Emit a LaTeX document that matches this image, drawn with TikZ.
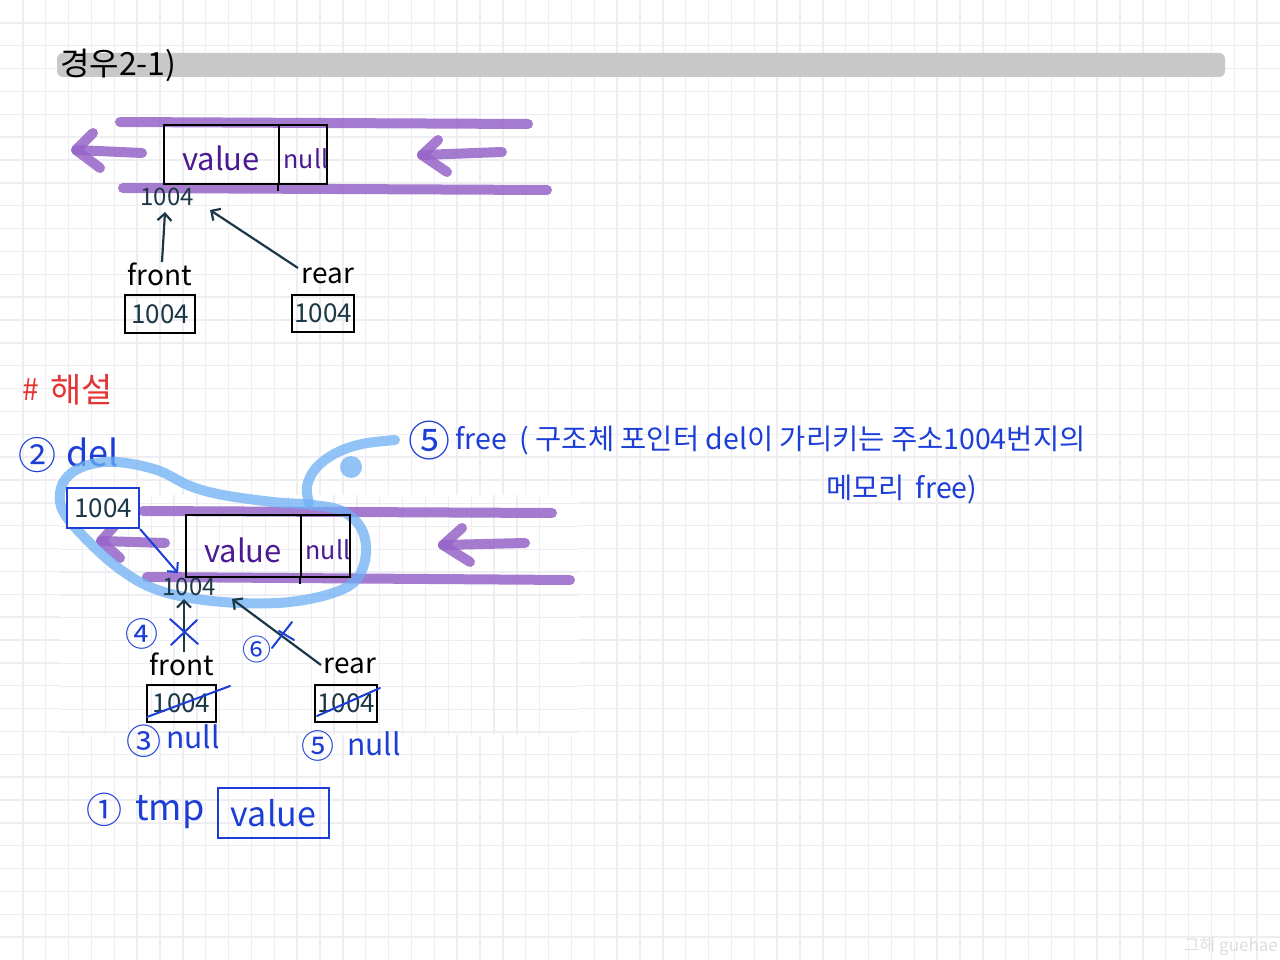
\documentclass[tikz,border=0pt]{standalone}
\usepackage{fontspec}
\setmainfont{Noto Sans CJK KR}
\usetikzlibrary{arrows.meta}
\definecolor{gridc}{RGB}{238,238,242}
\definecolor{barc}{RGB}{200,200,200}
\definecolor{purp}{RGB}{150,100,200}
\definecolor{nodepurp}{RGB}{75,25,145}
\definecolor{tealc}{RGB}{28,55,70}
\definecolor{penblue}{RGB}{28,62,215}
\definecolor{loopblue}{RGB}{110,175,245}
\definecolor{penred}{RGB}{228,52,52}
\definecolor{wmark}{RGB}{222,222,222}
\newcommand{\hsz}[1]{\fontsize{#1}{#1}\selectfont}
\tikzset{
  pline/.style={line width=10, line cap=round, line join=round, draw=purp, draw opacity=0.85},
  loopst/.style={line width=10, line cap=round, line join=round, draw=loopblue, draw opacity=0.75},
  cellbox/.style={draw=black, line width=2.2, inner sep=0},
  bluebox/.style={draw=penblue, line width=2.2, inner sep=0},
  vtxt/.style={text=nodepurp, font=\hsz{31}, inner sep=0},
  ntxt/.style={text=nodepurp, font=\hsz{25}, inner sep=0},
  addr/.style={text=tealc, font=\hsz{24}, inner sep=0},
  lbl/.style={text=black, font=\hsz{28}, inner sep=0},
  btxt/.style={text=penblue, font=\hsz{30}, inner sep=0},
  ptr/.style={draw=tealc, line width=2.2, -{Straight Barb[length=7pt,width=14pt]}},
  bptr/.style={draw=penblue, line width=2, -{Straight Barb[length=7pt,width=14pt]}},
  bstroke/.style={draw=penblue, line width=2, line cap=round}
}
\begin{document}
\begin{tikzpicture}[x=1pt,y=-1pt]
\useasboundingbox (0,0) rectangle (1280,960);
\fill[white] (0,0) rectangle (1280,960);
% grid
\foreach \i in {1,...,55} \draw[gridc, line width=1.3] (\i*22.857,0) -- (\i*22.857,960);
\foreach \j in {1,...,41} \draw[gridc, line width=1.3] (0,\j*22.857) -- (1280,\j*22.857);
% pasted area
\fill[white] (60,495) rectangle (578,735);
\begin{scope}
\clip (60,495) rectangle (578,735);
\foreach \i in {0,...,23} \draw[gridc, line width=1.3] (14.1+\i*22.857,495) -- (14.1+\i*22.857,735);
\foreach \j in {21,...,33} \draw[gridc, line width=1.3] (60,\j*22.857+0.6) -- (578,\j*22.857+0.6);
\end{scope}
% title bar
\fill[barc, rounded corners=6] (57,53) rectangle (1225,77);
\node[anchor=west, font=\hsz{32}, inner sep=0] (title) at (60,65) {경우2-1)};

% ---------- top diagram ----------
\draw[pline] (120,122) -- (528,124);
\draw[pline] (123,188) -- (547,190);
\draw[pline] (93,133) -- (76,150) -- (100,168);
\draw[pline] (76,150) -- (142,153);
\draw[pline] (438,140) -- (422,155) -- (447,172);
\draw[pline] (422,155) -- (502,152);
\node[cellbox, minimum width=115, minimum height=59] (v1) at (221.5,154.5) {};
\node[cellbox, minimum width=48, minimum height=59] (n1) at (303,154.5) {};
\draw[black, line width=2.2] (n1.south west) -- ++(0,6);
\node[vtxt] (v1t) at (221,158) {value};
\node[ntxt] (n1t) at (306,159) {null};
\node[addr] (a1) at (167,197) {1004};
\node[lbl] (f1) at (160,274) {front};
\node[lbl] (r1) at (328,276) {rear};
\node[cellbox, minimum width=70, minimum height=38] (fb1) at (160,314) {};
\node[addr, font=\hsz{26}] (fb1t) at (fb1) {1004};
\node[cellbox, minimum width=62, minimum height=37] (rb1) at (323,313.5) {};
\node[addr, font=\hsz{26}] (rb1t) at (rb1) {1004};
\coordinate (f1s) at (162,262);
\coordinate (f1e) at (165,212);
\coordinate (r1s) at (298,268);
\coordinate (r1e) at (210,210);
\draw[ptr] (f1s) -- (f1e);
\draw[ptr] (r1s) -- (r1e);

% ---------- explanation ----------
\node[anchor=west, text=penred, font=\hsz{30}, inner sep=0] (hash) at (22,390) {\#};
\node[anchor=west, text=penred, font=\hsz{34}, inner sep=0] (haeseol) at (50,390) {해설};
\node[btxt, font=\hsz{38}] (c2) at (37,455) {②};
\node[anchor=west, btxt, font=\hsz{36}] (del) at (66,452) {del};
\node[btxt, font=\hsz{42}] (c5a) at (429,441) {⑤};
\node[anchor=west, btxt, font=\hsz{28.5}] (free1) at (455,441) {free \ ( 구조체 포인터 del이 가리키는 주소1004번지의};
\node[anchor=west, btxt, font=\hsz{28.5}] (free2) at (826,490) {메모리 \,free)};

% ---------- lower diagram ----------
\draw[pline] (143,511) -- (552,513);
\draw[pline] (147,577) -- (570,580);
\draw[pline] (118,522) -- (101,541) -- (120,558);
\draw[pline] (101,541) -- (165,543);
\draw[pline] (462,528) -- (443,545) -- (470,562);
\draw[pline] (443,545) -- (525,543);
% blue loop
\draw[loopst] plot[smooth cycle, tension=0.6] coordinates {
 (117,462) (157,470) (190,486) (223,495) (273,502) (313,505) (342,511)
 (361,528) (366,553) (357,579) (333,593) (290,602) (240,603) (190,598)
 (150,587) (117,567) (87,540) (64,513) (60,493) (68,476) (88,465)};
\draw[loopst] plot[smooth, tension=0.6] coordinates {
 (309,503) (307,486) (316,468) (336,453) (362,444) (395,440)};
\fill[loopblue, fill opacity=0.75] (351,467) circle[radius=11];
% node
\node[cellbox, minimum width=115, minimum height=62] (v2) at (243.5,546) {};
\node[cellbox, minimum width=49, minimum height=62] (n2) at (325.5,546) {};
\draw[black, line width=2.2] (n2.south west) -- ++(0,6);
\node[vtxt] (v2t) at (243,550) {value};
\node[ntxt] (n2t) at (328,550) {null};
\node[addr] (a2) at (189,587) {1004};
% del box
\node[bluebox, fill=white, minimum width=72, minimum height=40] (db) at (103,508) {};
\node[addr, font=\hsz{26}] (dbt) at (db) {1004};
\coordinate (dbe) at (178,573);
\draw[bptr] (db.south east) -- (dbe);
% front / rear
\node[lbl] (f2) at (182,664) {front};
\node[lbl] (r2) at (350,666) {rear};
\node[cellbox, minimum width=69, minimum height=37] (fb2) at (181.5,703.5) {};
\node[addr, font=\hsz{26}] (fb2t) at (fb2) {1004};
\node[cellbox, minimum width=62, minimum height=37] (rb2) at (346,703.5) {};
\node[addr, font=\hsz{26}] (rb2t) at (rb2) {1004};
\coordinate (f2s) at (184,652);
\coordinate (f2e) at (184,599);
\coordinate (r2s) at (321,665);
\coordinate (r2e) at (232,599);
\draw[ptr] (f2s) -- (f2e);
\draw[ptr] (r2s) -- (r2e);
% crosses
\draw[bstroke] (170,619) -- (198,644);
\draw[bstroke] (197,620) -- (171,645);
\draw[bstroke] (292,622) -- (272,648);
\draw[bstroke] (279,631) -- (294,640);
\node[btxt, font=\hsz{33}] (c4) at (142,634) {④};
\node[btxt, font=\hsz{29}] (c6) at (257,649) {⑥};
% strike-through
\draw[bstroke] (147,717) -- (230,686);
\draw[bstroke] (317,716) -- (380,688);
\node[btxt, font=\hsz{35}] (c3) at (144,741) {③};
\node[btxt, font=\hsz{30}, anchor=west] (null3) at (166,737) {null};
\node[btxt, font=\hsz{33}] (c5) at (318,746) {⑤};
\node[btxt, font=\hsz{30}, anchor=west] (null5) at (347,744) {null};
% tmp
\node[btxt, font=\hsz{36}] (c1) at (104,810) {①};
\node[btxt, font=\hsz{36}, anchor=west] (tmp) at (135,812) {tmp};
\node[bluebox, minimum width=111, minimum height=50] (tb) at (273.5,813) {};
\node[btxt, font=\hsz{34}] (tbt) at (tb) {value};
% watermark
\node[text=wmark, font=\hsz{17}, inner sep=0, anchor=east] (wm) at (1278,947) {그해 guehae};
\end{tikzpicture}
\end{document}
